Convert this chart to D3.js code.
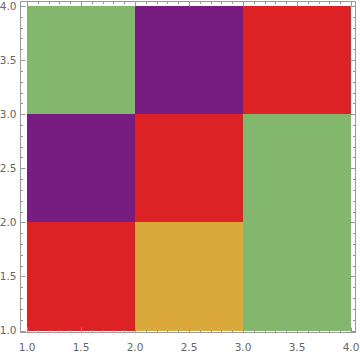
<!DOCTYPE html>
<html><head><meta charset="utf-8">
<script src="https://cdn.jsdelivr.net/npm/d3@7"></script>
<style>body{margin:0;background:#fff}svg{display:block}</style>
</head><body>
<script>
// Data
const xEdges = [1, 2, 3, 4];
const yEdges = [1, 2, 3, 4];
// rows from bottom (y 1-2) to top (y 3-4); columns x 1-2, 2-3, 3-4
const rowColors = [
  ["red", "orange", "green"],
  ["purple", "red", "green"],
  ["green", "purple", "red"]
];
const palette = {green: "#84b76e", purple: "#771c81", red: "#dd2226", orange: "#dba83c"};
const tickLabels = ["1.0", "1.5", "2.0", "2.5", "3.0", "3.5", "4.0"];

const W = 360, H = 356;
const svg = d3.select("body").append("svg").attr("width", W).attr("height", H);
const x = d3.scaleLinear().domain([1, 4]).range([27, 351]);
const y = d3.scaleLinear().domain([1, 4]).range([330.5, 6]);

const cells = [];
rowColors.forEach((row, i) => row.forEach((c, j) => cells.push({x0: xEdges[j], x1: xEdges[j+1], y0: yEdges[i], y1: yEdges[i+1], c})));
svg.append("g").selectAll("rect").data(cells).join("rect")
  .attr("x", d => x(d.x0)).attr("y", d => y(d.y1))
  .attr("width", d => x(d.x1) - x(d.x0)).attr("height", d => y(d.y0) - y(d.y1))
  .attr("fill", d => palette[d.c]).attr("shape-rendering", "crispEdges");

// frame
const fL = 20.5, fR = 355.5, fT = 1.5, fB = 332.5;
const frameCol = "#999";
svg.append("rect").attr("x", fL).attr("y", fT).attr("width", fR - fL).attr("height", fB - fT)
  .attr("fill", "none").attr("stroke", frameCol).attr("stroke-width", 1);

const minor = d3.range(10, 41).map(v => v / 10);
const isMajor = v => Math.abs(v * 2 - Math.round(v * 2)) < 1e-6;
const tg = svg.append("g").attr("stroke", frameCol).attr("stroke-width", 1);
minor.forEach(v => {
  const len = isMajor(v) ? 5 : 2.5;
  const px = Math.round(x(v)) + 0.5, py = Math.round(y(v)) + 0.5;
  tg.append("line").attr("x1", px).attr("x2", px).attr("y1", fB).attr("y2", fB - len);
  tg.append("line").attr("x1", px).attr("x2", px).attr("y1", fT).attr("y2", fT + len);
  tg.append("line").attr("y1", py).attr("y2", py).attr("x1", fL).attr("x2", fL + len);
  tg.append("line").attr("y1", py).attr("y2", py).attr("x1", fR).attr("x2", fR - len);
});

const labVals = tickLabels.map(Number);
svg.append("g").selectAll("text").data(labVals).join("text")
  .attr("x", d => x(d)).attr("y", fB + 18).attr("text-anchor", "middle")
  .attr("font-family", "DejaVu Sans, sans-serif").attr("font-size", 10.5).attr("fill", "#666")
  .text((d, i) => tickLabels[i]);
svg.append("g").selectAll("text").data(labVals).join("text")
  .attr("x", fL - 4).attr("y", d => y(d)).attr("dy", "0.35em").attr("text-anchor", "end")
  .attr("font-family", "DejaVu Sans, sans-serif").attr("font-size", 10.5).attr("fill", "#666")
  .text((d, i) => tickLabels[i]);
</script>
</body></html>
